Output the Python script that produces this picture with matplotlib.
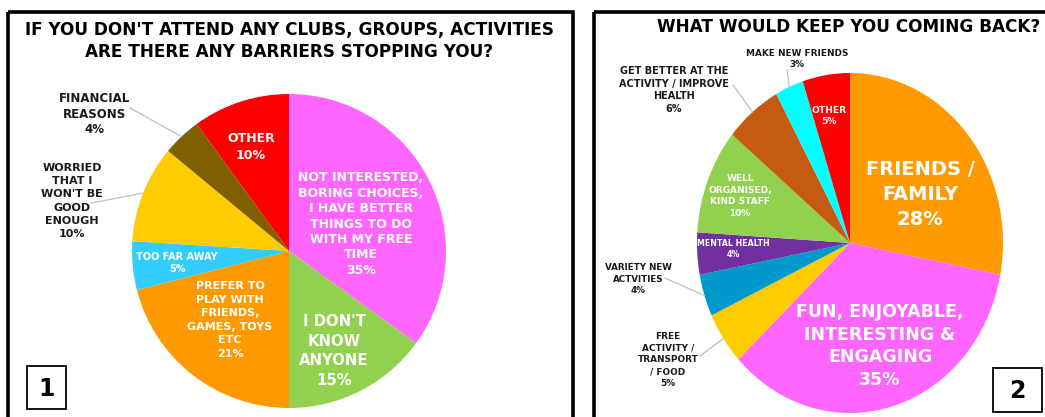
import matplotlib
matplotlib.use("Agg")
import matplotlib.pyplot as plt
from matplotlib.patches import Rectangle
import numpy as np

# ---------------- data ----------------
left_title = "IF YOU DON'T ATTEND ANY CLUBS, GROUPS, ACTIVITIES\nARE THERE ANY BARRIERS STOPPING YOU?"
left_labels = ["NOT INTERESTED,\nBORING CHOICES,\nI HAVE BETTER\nTHINGS TO DO\nWITH MY FREE\nTIME",
               "I DON'T\nKNOW\nANYONE",
               "PREFER TO\nPLAY WITH\nFRIENDS,\nGAMES, TOYS\nETC",
               "TOO FAR AWAY",
               "WORRIED\nTHAT I\nWON'T BE\nGOOD\nENOUGH",
               "FINANCIAL\nREASONS",
               "OTHER"]
left_values = [35, 15, 21, 5, 10, 4, 10]
left_colors = ["#FF66FF", "#92D050", "#FF9900", "#33CCFF", "#FFCC00", "#7F6000", "#FF0000"]

right_title = "WHAT WOULD KEEP YOU COMING BACK?"
right_labels = ["FRIENDS /\nFAMILY",
                "FUN, ENJOYABLE,\nINTERESTING &\nENGAGING",
                "FREE\nACTIVITY /\nTRANSPORT\n/ FOOD",
                "VARIETY NEW\nACTVITIES",
                "MENTAL HEALTH",
                "WELL\nORGANISED,\nKIND STAFF",
                "GET BETTER AT THE\nACTIVITY / IMPROVE\nHEALTH",
                "MAKE NEW FRIENDS",
                "OTHER"]
right_values = [28, 35, 5, 4, 4, 10, 6, 3, 5]
right_colors = ["#FF9900", "#FF66FF", "#FFCC00", "#0099CC", "#7030A0", "#92D050", "#C55A11", "#00FFFF", "#FF0000"]

panel_numbers = ["1", "2"]

# ---------------- layout (pixels) ----------------
W, H = 1045, 417
# label style: (x, y, fontsize, color, linespacing, leader_start or None)
left_style = [
    (361, 224, 9.0, "white", 1.25, None),
    (334, 351, 10.7, "white", 1.38, None),
    (230, 320, 8.0, "white", 1.45, None),
    (177, 263, 7.0, "white", 1.15, None),
    (72, 201, 8.0, "#1a1a1a", 1.38, (91, 203)),
    (94, 114, 8.5, "#1a1a1a", 1.22, (130, 108)),
    (251, 147, 9.0, "white", 1.38, None),
]
right_style = [
    (920, 194, 14.0, "white", 1.4, None),
    (880, 346, 12.5, "white", 1.34, None),
    (668, 360, 6.4, "#1a1a1a", 1.4, (700, 356)),
    (638, 279, 6.3, "#1a1a1a", 1.4, (665, 278)),
    (733, 249, 5.7, "white", 1.3, None),
    (740, 196, 6.5, "white", 1.35, None),
    (674, 90, 7.0, "#1a1a1a", 1.3, (733, 85)),
    (797, 59, 6.4, "#1a1a1a", 1.4, (787, 70)),
    (829, 116, 6.6, "white", 1.4, None),
]

fig = plt.figure(figsize=(W / 100, H / 100), dpi=100)
fig.patch.set_facecolor("white")


def pie_axes(x0, y0, x1, y1):
    return fig.add_axes([x0 / W, 1 - y1 / H, (x1 - x0) / W, (y1 - y0) / H])


axL = pie_axes(132, 94, 446, 408)
axR = pie_axes(697, 73, 1003, 413)

wL, _ = axL.pie(left_values, colors=left_colors, startangle=90, counterclock=False,
                wedgeprops=dict(linewidth=0))
wR, _ = axR.pie(right_values, colors=right_colors, startangle=90, counterclock=False,
                wedgeprops=dict(linewidth=0))
for ax in (axL, axR):
    ax.set_aspect("auto")
    ax.set_xlim(-1, 1)
    ax.set_ylim(-1, 1)
    ax.axis("off")

# overlay in pixel coordinates
ov = fig.add_axes([0, 0, 1, 1], zorder=5)
ov.set_xlim(0, W)
ov.set_ylim(H, 0)
ov.axis("off")
ov.patch.set_alpha(0)


def to_pixels(ax, theta_deg, r=1.0):
    t = np.deg2rad(theta_deg)
    disp = ax.transData.transform((r * np.cos(t), r * np.sin(t)))
    return ov.transData.inverted().transform(disp)


fig.canvas.draw()


def draw_labels(ax, wedges, labels, values, styles):
    for w, lab, v, st in zip(wedges, labels, values, styles):
        x, y, fs, col, ls, lead = st
        ov.text(x, y, f"{lab}\n{v}%", ha="center", va="center", multialignment="center",
                fontsize=fs, fontweight="bold", color=col, linespacing=ls,
                family="DejaVu Sans")
        if lead is not None:
            mid = (w.theta1 + w.theta2) / 2
            px, py = to_pixels(ax, mid, 1.0)
            ov.plot([lead[0], px], [lead[1], py], color="#BFBFBF", lw=0.9)


draw_labels(axL, wL, left_labels, left_values, left_style)
draw_labels(axR, wR, right_labels, right_values, right_style)

# titles
ov.text(289, 41, left_title, ha="center", va="center", multialignment="center",
        fontsize=12.2, fontweight="bold", color="black", linespacing=1.35)
ov.text(849, 27, right_title, ha="center", va="center",
        fontsize=12.2, fontweight="bold", color="black")

# panel frames
ov.add_patch(Rectangle((8, 12), 565, 430, fill=False, edgecolor="black", lw=2.6, clip_on=False))
ov.add_patch(Rectangle((594, 12), 500, 430, fill=False, edgecolor="black", lw=2.6, clip_on=False))

# numbered boxes
for (bx, by, bw, bh), num in zip([(27, 366, 39, 43), (993, 368, 49, 44)], panel_numbers):
    ov.add_patch(Rectangle((bx, by), bw, bh, facecolor="white", edgecolor="black", lw=1.3))
    ov.text(bx + bw / 2, by + bh / 2 + 1, num, ha="center", va="center",
            fontsize=17, fontweight="bold", color="black")

fig.savefig("out.png", dpi=100, facecolor="white")
